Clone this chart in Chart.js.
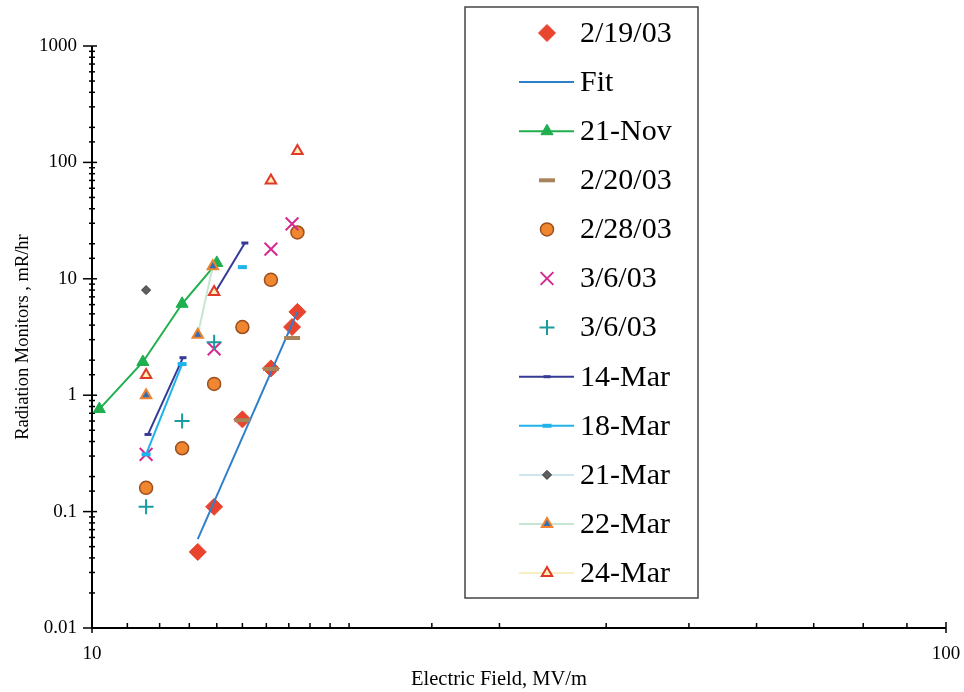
<!DOCTYPE html>
<html>
<head>
<meta charset="utf-8">
<script src="https://cdn.jsdelivr.net/npm/chart.js@4.4.0/dist/chart.umd.min.js"></script>
<style>
    html, body { margin: 0; padding: 0; background: #fff; }
    #contenedor { width: 964px; height: 692px; }
</style>
</head>
<body>
<div id="contenedor"><canvas id="grafico" width="964" height="692"></canvas></div>
<script>
// ========== DATOS ==========
// Campo eléctrico (MV/m) y monitores de radiación (mR/hr); null = corte de línea
const campo0219 = [13.3, 13.9, 15.0, 16.2, 17.15, 17.4];
const rad0219   = [0.045, 0.11, 0.62, 1.7, 3.85, 5.2];

const campoFit = [13.3, 17.4];
const radFit   = [0.058, 5.2];

const campoNov21 = [10.2, 11.47, 12.75, 14.0];
const radNov21   = [0.76, 1.93, 6.1, 13.7];

const campo0220 = [15.0, 16.2, 17.15];
const rad0220   = [0.61, 1.68, 3.1];

const campo0228 = [11.57, 12.75, 13.9, 15.0, 16.2, 17.4];
const rad0228   = [0.16, 0.35, 1.25, 3.85, 9.8, 25];

const campo0306a = [11.57, 13.9, 16.2, 17.15];
const rad0306a   = [0.31, 2.5, 18, 29.6];

const campo0306b = [11.57, 12.75, 13.9];
const rad0306b   = [0.11, 0.6, 2.85];

const campoMar14 = [11.63, 12.78, null, 13.93, 15.1];
const radMar14   = [0.46, 2.1, null, 7.6, 20.3];

const campoMar18 = [11.57, 12.75, null, 15.0];
const radMar18   = [0.31, 1.85, null, 12.6];

const campoMar21 = [11.57];
const radMar21   = [8.0];

const campoMar22 = [11.57, null, 13.3, 13.85];
const radMar22   = [1.0, null, 3.3, 12.8];

const campoMar24 = [11.57, 13.9, 16.2, 17.4];
const radMar24   = [1.49, 7.7, 70, 125];

const ticksY = [1000, 100, 10, 1, 0.1, 0.01];
const ticksX = [10, 100];

const tituloX = 'Electric Field, MV/m';
const tituloY = 'Radiation Monitors , mR/hr';

const FUENTE = 'Liberation Serif';

// ========== UTILIDADES ==========
function puntos(xs, ys) {
    return xs.map((v, i) => ({ x: v, y: ys[i] }));
}

function esMayor(valor) {
    const l = Math.log10(valor);
    return Math.abs(l - Math.round(l)) < 1e-6;
}

function etiqueta(valor, lista) {
    const t = lista.find(v => Math.abs(v - valor) / v < 1e-6);
    return t === undefined ? '' : String(t);
}

// ========== SERIES ==========
const series = [
    { label: '2/19/03', data: puntos(campo0219, rad0219), pointStyle: 'rectRot', pointRadius: 8.5,
      pointBackgroundColor: '#E8442E', pointBorderColor: '#E8442E', pointBorderWidth: 1, showLine: false, lineaLeyenda: null },
    { label: 'Fit', data: puntos(campoFit, radFit), pointStyle: false, pointRadius: 0,
      showLine: true, borderColor: '#2F80CC', borderWidth: 2, lineaLeyenda: '#2F80CC' },
    { label: '21-Nov', data: puntos(campoNov21, radNov21), pointStyle: 'triangle', pointRadius: 7,
      pointBackgroundColor: '#1FAF4E', pointBorderColor: '#1FAF4E', pointBorderWidth: 1,
      showLine: true, borderColor: '#1FAF4E', borderWidth: 2, lineaLeyenda: '#1FAF4E' },
    { label: '2/20/03', data: puntos(campo0220, rad0220), pointStyle: 'line', pointRadius: 8,
      pointBorderColor: '#A8845A', pointBorderWidth: 4, showLine: false, lineaLeyenda: null },
    { label: '2/28/03', data: puntos(campo0228, rad0228), pointStyle: 'circle', pointRadius: 6.5,
      pointBackgroundColor: '#F0862F', pointBorderColor: '#9C4F1E', pointBorderWidth: 1.5, showLine: false, lineaLeyenda: null },
    { label: '3/6/03', data: puntos(campo0306a, rad0306a), pointStyle: 'crossRot', pointRadius: 9,
      pointBorderColor: '#D62A8E', pointBorderWidth: 2, showLine: false, lineaLeyenda: null },
    { label: '3/6/03', data: puntos(campo0306b, rad0306b), pointStyle: 'cross', pointRadius: 7.5,
      pointBorderColor: '#1A9C9C', pointBorderWidth: 2, showLine: false, lineaLeyenda: null },
    { label: '14-Mar', data: puntos(campoMar14, radMar14), pointStyle: 'line', pointRadius: 3.5,
      pointBorderColor: '#343A96', pointBorderWidth: 3,
      showLine: true, borderColor: '#343A96', borderWidth: 2, lineaLeyenda: '#343A96' },
    { label: '18-Mar', data: puntos(campoMar18, radMar18), pointStyle: 'line', pointRadius: 4.5,
      pointBorderColor: '#1FB3EA', pointBorderWidth: 4,
      showLine: true, borderColor: '#1FB3EA', borderWidth: 2, lineaLeyenda: '#1FB3EA' },
    { label: '21-Mar', data: puntos(campoMar21, radMar21), pointStyle: 'rectRot', pointRadius: 4.5,
      pointBackgroundColor: '#5F5F5F', pointBorderColor: '#333333', pointBorderWidth: 1,
      showLine: true, borderColor: '#CFE6F0', borderWidth: 2, lineaLeyenda: '#CFE6F0' },
    { label: '22-Mar', data: puntos(campoMar22, radMar22), pointStyle: 'triangle', pointRadius: 6,
      pointBackgroundColor: '#2F6FB8', pointBorderColor: '#F0822F', pointBorderWidth: 2,
      showLine: true, borderColor: '#C6E6D3', borderWidth: 2, lineaLeyenda: '#C6E6D3' },
    { label: '24-Mar', data: puntos(campoMar24, radMar24), pointStyle: 'triangle', pointRadius: 6,
      pointBackgroundColor: '#FBEFB5', pointBorderColor: '#E0392A', pointBorderWidth: 2,
      showLine: false, borderColor: '#FAEFC0', borderWidth: 2, lineaLeyenda: '#FAEFC0' }
];

// las series posteriores se dibujan encima
series.forEach((s, i) => { s.order = -i; s.pointHoverRadius = s.pointRadius; });

// ========== PLUGINS ==========
const pluginEjes = {
    id: 'ejes',
    beforeDatasetsDraw(chart) {
        const { ctx, chartArea: a, scales: { x, y } } = chart;
        ctx.save();
        ctx.strokeStyle = '#000';
        ctx.lineWidth = 2;
        ctx.beginPath();
        ctx.moveTo(a.left, a.top);
        ctx.lineTo(a.left, a.bottom);
        ctx.lineTo(a.right, a.bottom);
        ctx.stroke();

        ctx.lineWidth = 1.5;
        y.ticks.forEach(t => {
            const py = y.getPixelForValue(t.value);
            const mayor = esMayor(t.value);
            ctx.beginPath();
            ctx.moveTo(a.left - (mayor ? 9 : 3), py);
            ctx.lineTo(a.left + (mayor ? 5 : 3), py);
            ctx.stroke();
        });
        x.ticks.forEach(t => {
            const px = x.getPixelForValue(t.value);
            const mayor = esMayor(t.value);
            ctx.beginPath();
            ctx.moveTo(px, a.bottom - (mayor ? 6 : 5));
            ctx.lineTo(px, a.bottom + (mayor ? 5 : 1));
            ctx.stroke();
        });

        // título del eje X (en el original no queda centrado sobre el área)
        ctx.fillStyle = '#000';
        ctx.font = '20.5px "' + FUENTE + '"';
        ctx.textAlign = 'center';
        ctx.textBaseline = 'middle';
        ctx.fillText(tituloX, 499, 680);
        ctx.restore();
    }
};

const pluginLeyenda = {
    id: 'leyendaCaja',
    afterDraw(chart) {
        const ctx = chart.ctx;
        const caja = { x: 465, y: 7, w: 233, h: 591 };
        const primeraFila = 33;
        const paso = 49.1;

        ctx.save();
        ctx.fillStyle = '#fff';
        ctx.fillRect(caja.x, caja.y, caja.w, caja.h);
        ctx.strokeStyle = '#444';
        ctx.lineWidth = 1.5;
        ctx.strokeRect(caja.x, caja.y, caja.w, caja.h);

        chart.data.datasets.forEach((ds, i) => {
            const cy = primeraFila + i * paso;
            if (ds.lineaLeyenda) {
                ctx.strokeStyle = ds.lineaLeyenda;
                ctx.lineWidth = 2;
                ctx.beginPath();
                ctx.moveTo(519, cy);
                ctx.lineTo(574, cy);
                ctx.stroke();
            }
            if (ds.pointStyle && ds.pointRadius > 0) {
                ctx.fillStyle = ds.pointBackgroundColor || ds.pointBorderColor;
                ctx.strokeStyle = ds.pointBorderColor;
                ctx.lineWidth = ds.pointBorderWidth;
                Chart.helpers.drawPoint(ctx, {
                    pointStyle: ds.pointStyle,
                    radius: ds.pointRadius,
                    rotation: 0,
                    borderWidth: ds.pointBorderWidth
                }, 547, cy);
            }
            ctx.fillStyle = '#000';
            ctx.font = '30px "' + FUENTE + '"';
            ctx.textBaseline = 'middle';
            ctx.textAlign = 'left';
            ctx.fillText(ds.label, 580, cy + 1);
        });
        ctx.restore();
    }
};

// ========== GRÁFICO ==========
const fuenteEje = { family: FUENTE, size: 19 };

new Chart(document.getElementById('grafico').getContext('2d'), {
    type: 'scatter',
    data: { datasets: series },
    options: {
        responsive: false,
        devicePixelRatio: 1,
        animation: false,
        events: [],
        layout: { padding: { top: 46, right: 18, left: 0, bottom: 0 } },
        plugins: {
            legend: { display: false },
            tooltip: { enabled: false }
        },
        scales: {
            x: {
                type: 'logarithmic',
                min: 10,
                max: 100,
                grid: { display: false, drawTicks: false },
                border: { display: false },
                ticks: {
                    autoSkip: false,
                    maxRotation: 0,
                    padding: 15,
                    color: '#000',
                    font: fuenteEje,
                    callback: v => etiqueta(v, ticksX)
                },
                title: { display: false, text: tituloX },
                afterFit: s => {
                    s.height = 64;
                    s.paddingLeft = 0;
                    s.paddingRight = 0;
                }
            },
            y: {
                type: 'logarithmic',
                min: 0.01,
                max: 1000,
                grid: { display: false, drawTicks: false },
                border: { display: false },
                ticks: {
                    autoSkip: false,
                    padding: 15,
                    color: '#000',
                    font: fuenteEje,
                    callback: v => etiqueta(v, ticksY)
                },
                title: {
                    display: true,
                    text: tituloY,
                    color: '#000',
                    font: { family: FUENTE, size: 18.5 },
                    padding: { top: 12, bottom: 0 }
                },
                afterFit: s => { s.width = 92; }
            }
        }
    },
    plugins: [pluginEjes, pluginLeyenda]
});
</script>
</body>
</html>
